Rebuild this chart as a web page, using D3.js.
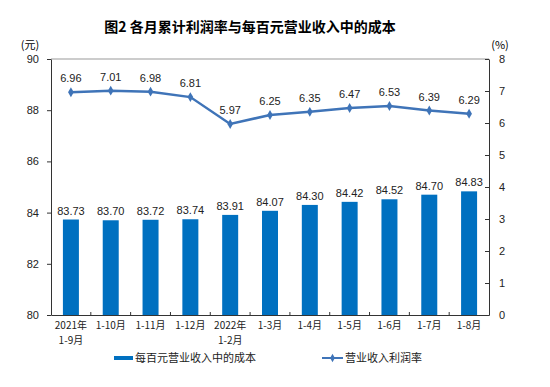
<!DOCTYPE html>
<html><head><meta charset="utf-8">
<script src="https://cdn.jsdelivr.net/npm/d3@7"></script>
<style>body{margin:0;background:#fff}svg{display:block}text{font-family:"Liberation Sans",Arial,"Noto Sans CJK SC",sans-serif}</style>
</head><body><svg id="c" width="550" height="387"></svg>
<script>
const categories = [["2021年","1-9月"],["1-10月"],["1-11月"],["1-12月"],["2022年","1-2月"],["1-3月"],["1-4月"],["1-5月"],["1-6月"],["1-7月"],["1-8月"]];
const costValues = [83.73,83.70,83.72,83.74,83.91,84.07,84.30,84.42,84.52,84.70,84.83];
const profitRate = [6.96,7.01,6.98,6.81,5.97,6.25,6.35,6.47,6.53,6.39,6.29];
const leftTicks = [80,82,84,86,88,90];
const rightTicks = [0,1,2,3,4,5,6,7,8];

const svg = d3.select("#c");
const L=51,R=489,T=59,B=315;
const cjk='"Noto Sans CJK SC",sans-serif';
const x = d3.scaleBand().domain(d3.range(categories.length)).range([L,R]);
const yL = d3.scaleLinear().domain([80,90]).range([B,T]);
const yR = d3.scaleLinear().domain([0,8]).range([B,T]);
const barColor="#0070C0", lineColor="#3F74B8";

svg.append("text").attr("x",250).attr("y",32).attr("text-anchor","middle").attr("font-size",14).attr("font-weight","bold").style("font-family",cjk).text("图2  各月累计利润率与每百元营业收入中的成本");
svg.append("text").attr("x",30).attr("y",49).attr("text-anchor","middle").attr("font-size",11).style("font-family",cjk).text("(元)");
svg.append("text").attr("x",500).attr("y",49).attr("text-anchor","middle").attr("font-size",11).style("font-family",cjk).text("(%)");

// top border
svg.append("line").attr("x1",L).attr("x2",R).attr("y1",T).attr("y2",T).attr("stroke","#999");

// bars
const bw=16;
svg.selectAll("rect.bar").data(costValues).join("rect").attr("class","bar")
 .attr("x",(d,i)=>x(i)+x.bandwidth()/2-bw/2).attr("width",bw)
 .attr("y",d=>yL(d)).attr("height",d=>B-yL(d)).attr("fill",barColor);
svg.selectAll("text.bl").data(costValues).join("text").attr("class","bl")
 .attr("x",(d,i)=>x(i)+x.bandwidth()/2).attr("y",d=>yL(d)-5)
 .attr("text-anchor","middle").attr("font-size",11).attr("fill","#222").text(d=>d.toFixed(2));

// axes
const gl=svg.append("g").attr("transform",`translate(${L},0)`).call(d3.axisLeft(yL).tickValues(leftTicks).tickSize(4).tickSizeOuter(0).tickPadding(8));
const gr=svg.append("g").attr("transform",`translate(${R},0)`).call(d3.axisRight(yR).tickValues(rightTicks).tickSize(-4).tickSizeOuter(0).tickPadding(10));
const gb=svg.append("g").attr("transform",`translate(0,${B})`).call(d3.axisBottom(x).tickValues([]).tickSizeOuter(0));
[gl,gr,gb].forEach(g=>{g.select(".domain").attr("stroke","#333");g.selectAll(".tick line").attr("stroke","#333");g.selectAll("text").attr("font-size",11).attr("fill","#222").style("font-family","'Liberation Sans Narrow','Liberation Sans',sans-serif");});
// category boundary ticks (inside)
svg.selectAll("line.ct").data(d3.range(1,categories.length)).join("line").attr("class","ct")
 .attr("x1",i=>x(i)).attr("x2",i=>x(i)).attr("y1",B).attr("y2",B-3).attr("stroke","#333");
// category labels (wrapped with tspans)
categories.forEach((c,i)=>{
  const t=svg.append("text").attr("text-anchor","middle").attr("font-size",10).attr("fill","#222").style("font-family",cjk);
  c.forEach((s,j)=>{
    t.append("tspan").attr("x",x(i)+x.bandwidth()/2).attr("y",B+14+j*15).text(s);
  });
});

// line
const line=d3.line().x((d,i)=>x(i)+x.bandwidth()/2).y(d=>yR(d));
svg.append("path").datum(profitRate).attr("d",line).attr("fill","none").attr("stroke",lineColor).attr("stroke-width",2.5);
svg.selectAll("path.pt").data(profitRate).join("path").attr("class","pt")
 .attr("transform",(d,i)=>`translate(${x(i)+x.bandwidth()/2},${yR(d)})`)
 .attr("d",d3.symbol(d3.symbolDiamond,28)).attr("fill",lineColor);
svg.selectAll("text.ll").data(profitRate).join("text").attr("class","ll")
 .attr("x",(d,i)=>x(i)+x.bandwidth()/2).attr("y",d=>yR(d)-10)
 .attr("text-anchor","middle").attr("font-size",11).attr("fill","#222").text(d=>d.toFixed(2));

// legend
svg.append("rect").attr("x",114).attr("y",356).attr("width",19).attr("height",4).attr("fill",barColor);
svg.append("text").attr("x",135).attr("y",362).attr("font-size",11).attr("fill","#222").style("font-family",cjk).text("每百元营业收入中的成本");
svg.append("line").attr("x1",322).attr("x2",343).attr("y1",358).attr("y2",358).attr("stroke",lineColor).attr("stroke-width",2);
svg.append("path").attr("transform","translate(332.5,358)").attr("d",d3.symbol(d3.symbolDiamond,20)).attr("fill",lineColor);
svg.append("text").attr("x",345).attr("y",362).attr("font-size",11).attr("fill","#222").style("font-family",cjk).text("营业收入利润率");
</script></body></html>
